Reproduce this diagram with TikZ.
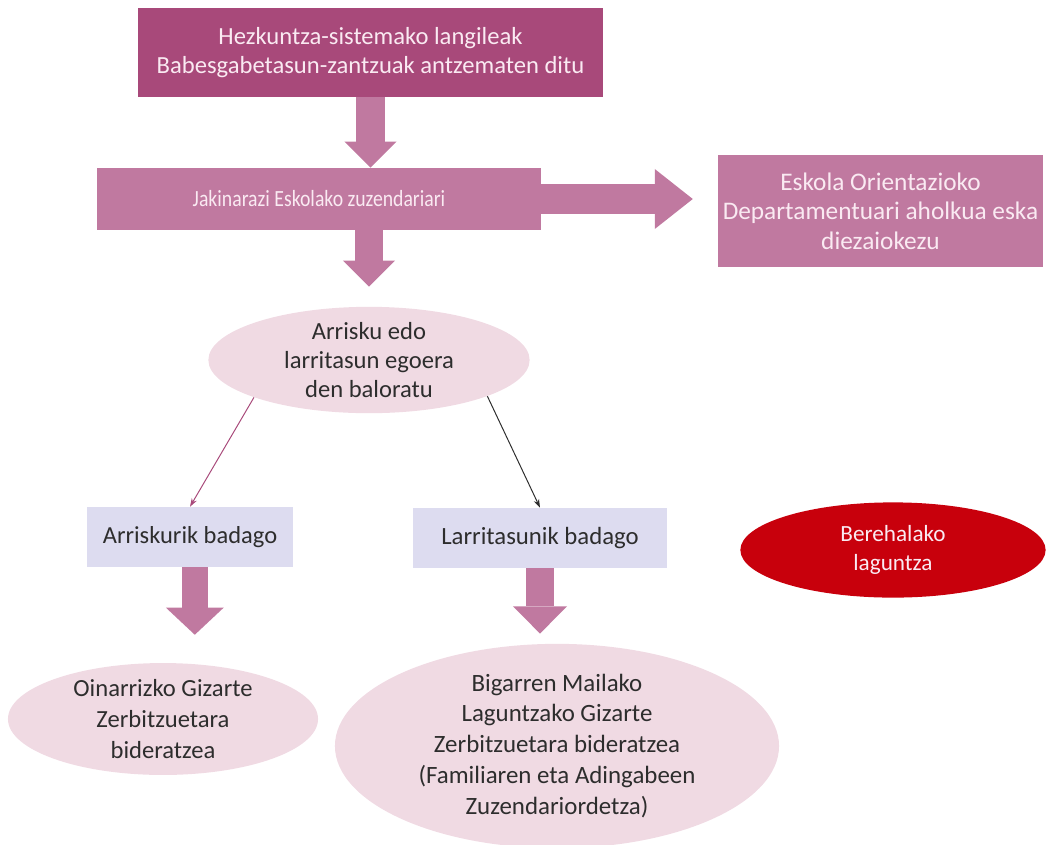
\documentclass[tikz,border=0pt]{standalone}
\usepackage{fontspec}
\setmainfont{Carlito}
\newfontfamily\narrowfont[FakeStretch=0.85]{Carlito}
\usetikzlibrary{arrows.meta,shapes.geometric}
\definecolor{plumdark}{RGB}{168,73,122}
\definecolor{plummid}{RGB}{192,121,160}
\definecolor{pinklight}{RGB}{240,218,227}
\definecolor{lavender}{RGB}{221,220,240}
\definecolor{alertred}{RGB}{200,0,12}
\definecolor{textgrey}{RGB}{45,45,45}
\definecolor{textlight}{RGB}{250,234,242}
\begin{document}
\begin{tikzpicture}[x=0.025cm,y=-0.025cm,align=center,
  box/.style={rectangle,inner sep=0pt},
  oval/.style={ellipse,inner sep=0pt,fill=pinklight,text=textgrey},
  bigarrow/.style={plummid,line width=0.7cm,-{Triangle[length=0.65cm 0 0,width=1.3cm 0 0,line width=0pt 0 0]}},
  thinarrow/.style={-{Stealth[length=6pt,width=4pt]},line width=0.7pt}]
\useasboundingbox (0,0) rectangle (1047,844);
\node[box,fill=plumdark,text=textlight,minimum width=11.63cm,minimum height=2.23cm,font=\fontsize{17.5}{20.6}\selectfont] (v1) at (370.5,52.5) {Hezkuntza-sistemako langileak\\Babesgabetasun-zantzuak antzematen ditu};
\node[box,fill=plummid,text=textlight,minimum width=11.1cm,minimum height=1.55cm,font=\narrowfont\fontsize{16.5}{18}\selectfont] (v2) at (319,199) {Jakinarazi Eskolako zuzendariari};
\node[box,fill=plummid,text=textlight,minimum width=8.13cm,minimum height=2.8cm,font=\fontsize{18}{21}\selectfont] (v3) at (880.5,211) {Eskola Orientazioko\\Departamentuari aholkua eska\\diezaiokezu};
\node[oval,minimum width=8.03cm,minimum height=2.35cm,font=\fontsize{17.5}{20.6}\selectfont] (v4) at (369,360) {Arrisku edo\\larritasun egoera\\den baloratu};
\node[box,fill=lavender,text=textgrey,minimum width=5.15cm,minimum height=1.5cm,font=\fontsize{17.4}{20}\selectfont] (v5) at (190,537) {Arriskurik badago};
\node[box,fill=lavender,text=textgrey,minimum width=6.35cm,minimum height=1.5cm,font=\fontsize{17.6}{20}\selectfont] (v6) at (540,538) {Larritasunik badago};
\node[ellipse,inner sep=0pt,fill=alertred,text=textlight,minimum width=7.63cm,minimum height=2.38cm,font=\fontsize{16.5}{21}\selectfont] (v7) at (893,550) {Berehalako\\laguntza};
\node[oval,minimum width=7.75cm,minimum height=2.63cm,font=\fontsize{17.5}{22}\selectfont] (v8) at (163,719) {Oinarrizko Gizarte\\Zerbitzuetara\\bideratzea};
\node[oval,minimum width=11.1cm,minimum height=4.95cm,font=\fontsize{17.7}{22}\selectfont] (v9) at (557,746) {Bigarren Mailako\\Laguntzako Gizarte\\Zerbitzuetara bideratzea\\(Familiaren eta Adingabeen\\Zuzendariordetza)};
\draw[bigarrow] (v1.south) -- (v1.south |- v2.north);
\draw[bigarrow] (v4.north |- v2.south) -- (v4.north) [shorten >=0.5cm];
\draw[bigarrow,line width=0.75cm,-{Triangle[length=0.95cm 0 0,width=1.5cm 0 0,line width=0pt 0 0]},shorten >=0.62cm] (v2.east) -- (v2.east -| v3.west);
\draw[thinarrow,plumdark] (v4.198) -- (v5.north);
\draw[thinarrow,textgrey] (v4.343) -- (v6.north);
\draw[bigarrow,line width=0.65cm,-{Triangle[length=0.68cm 0 0,width=1.45cm 0 0,line width=0pt 0 0]},shorten >=0.7cm] ([xshift=0.12cm]v5.south) -- ([xshift=0.12cm]v5.south |- v8.north);
\draw[bigarrow,line width=0.7cm,-{Triangle[length=0.68cm 0 0,width=1.35cm 0 0,line width=0pt 0 0]},shorten >=0.25cm] (v6.south) -- (v6.south |- v9.north);
\end{tikzpicture}
\end{document}
